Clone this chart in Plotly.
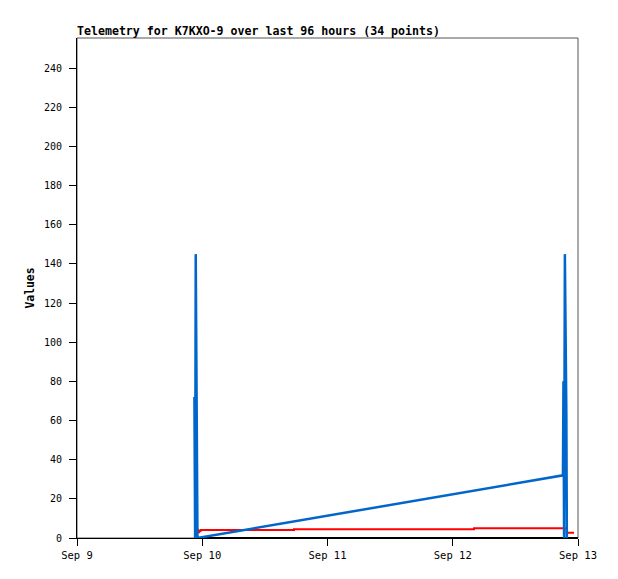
import plotly.graph_objects as go

# Blue series
blue_t = ["2023-09-09 22:30", "2023-09-09 22:38", "2023-09-09 22:45", "2023-09-09 22:58",
          "2023-09-09 23:05",
          "2023-09-12 21:07", "2023-09-12 21:13", "2023-09-12 21:20", "2023-09-12 21:29",
          "2023-09-12 21:46", "2023-09-12 21:52"]
blue_v = [72, 0, 145, 8, 0,
          32, 80, 0, 145, 64, 0]

# Red series
red_t = ["2023-09-09 22:55", "2023-09-09 23:10", "2023-09-09 23:25", "2023-09-09 23:40",
         "2023-09-10 17:35", "2023-09-12 04:05", "2023-09-12 21:50", "2023-09-12 23:15"]
red_v = [4.2, 3.0, 3.6, 4.1, 4.5, 5.0, 2.7, 2.7]

# Black series
black_t = ["2023-09-09 22:30", "2023-09-12 23:59"]
black_v = [0, 0]

y_ticks = list(range(0, 241, 20))
x_ticks = ["2023-09-09", "2023-09-10", "2023-09-11", "2023-09-12", "2023-09-13"]
x_tick_labels = ["Sep 9", "Sep 10", "Sep 11", "Sep 12", "Sep 13"]

FONT = "DejaVu Sans Mono"

fig = go.Figure()
fig.add_trace(go.Scatter(x=black_t, y=black_v, mode="lines",
                         line=dict(color="black", width=2), hoverinfo="skip"))
fig.add_trace(go.Scatter(x=red_t, y=red_v, mode="lines", line_shape="hv",
                         line=dict(color="#ff0000", width=2)))
fig.add_trace(go.Scatter(x=blue_t, y=blue_v, mode="lines",
                         line=dict(color="#0066cc", width=2.5)))

fig.update_layout(
    width=610, height=571,
    margin=dict(l=69, r=40, t=30, b=41),
    plot_bgcolor="white", paper_bgcolor="white",
    showlegend=False,
    font=dict(family=FONT, size=10, color="black"),
    shapes=[dict(type="rect", xref="paper", yref="paper", x0=0, x1=1, y0=0, y1=1,
                 line=dict(color="#555555", width=1), layer="below")],
    annotations=[dict(text="<b>Telemetry for K7KXO-9 over last 96 hours (34 points)</b>",
                      xref="paper", yref="paper", x=0, y=1, xanchor="left", yanchor="bottom",
                      xshift=-2, yshift=-2, showarrow=False,
                      font=dict(family=FONT, size=11.6, color="black"))],
)
fig.update_xaxes(
    type="date", range=["2023-09-09", "2023-09-13"],
    tickvals=x_ticks, ticktext=x_tick_labels,
    ticks="outside", ticklen=7, tickcolor="black", tickwidth=1,
    showgrid=False, zeroline=False, showline=True, linecolor="black", linewidth=1,
    tickfont=dict(family=FONT, size=10.5),
)
fig.update_yaxes(
    range=[0, 255.4], tickvals=y_ticks,
    ticks="outside", ticklen=7, tickcolor="black", tickwidth=1,
    ticklabelstandoff=5,
    showgrid=False, zeroline=False, showline=True, linecolor="black", linewidth=1,
    tickfont=dict(family=FONT, size=10),
    title=dict(text="<b>Values</b>", font=dict(family=FONT, size=11.4), standoff=6),
)

fig.write_html("out.html")
